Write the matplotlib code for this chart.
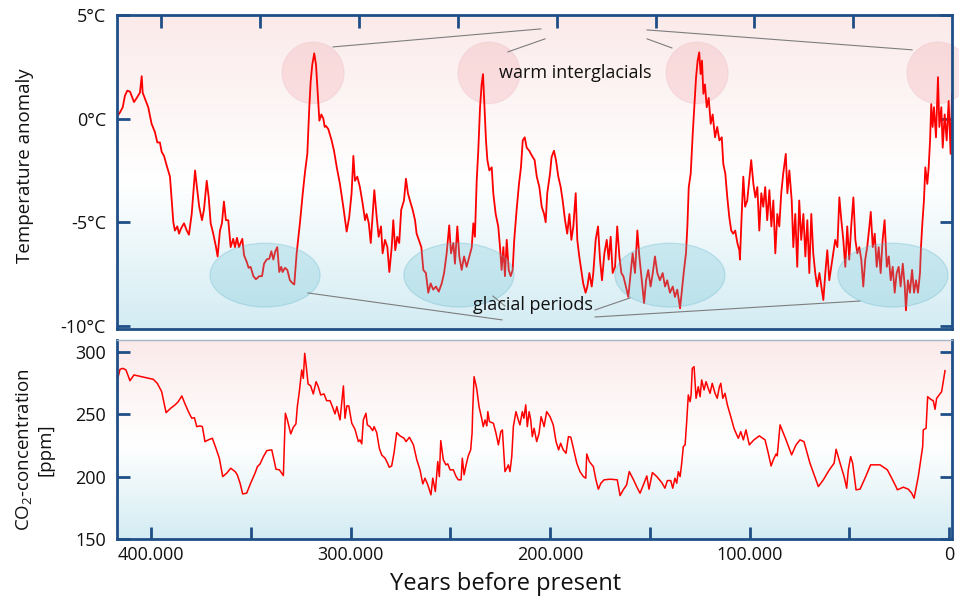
import numpy as np
import matplotlib
matplotlib.use("Agg")
import matplotlib.pyplot as plt
from matplotlib.patches import Ellipse
from matplotlib.colors import LinearSegmentedColormap

plt.rcParams['font.family'] = ['Open Sans', 'DejaVu Sans']
plt.rcParams['mathtext.fontset'] = 'custom'
plt.rcParams['mathtext.rm'] = 'Open Sans'
plt.rcParams['mathtext.it'] = 'Open Sans'

# ---------------- data (thousand years before present) ----------------
temp_kyr = [
    422.4, 421.0, 419.6, 418.5, 417.3, 415.9, 415.1, 413.9, 412.5, 410.9,
    410.0, 409.5, 408.3, 406.7, 405.0, 403.3, 402.1, 400.8, 399.9, 398.7,
    397.4, 395.7, 394.8, 394.0, 393.2, 392.0, 391.1, 390.1, 388.6, 387.2,
    386.1, 384.7, 383.0, 381.9, 380.9, 379.5, 378.5, 377.1, 376.1, 375.1,
    373.8, 372.4, 371.6, 370.4, 369.4, 368.4, 367.4, 366.2, 365.0, 363.7,
    362.8, 361.8, 360.8, 359.1, 358.2, 356.9, 355.9, 354.9, 353.5, 352.2,
    350.5, 349.1, 348.1, 346.8, 345.4, 344.4, 343.4, 342.4, 341.4, 340.4,
    339.4, 338.7, 337.5, 336.3, 335.0, 333.6, 332.8, 331.6, 329.9, 328.5,
    327.4, 326.2, 325.2, 324.5, 323.7, 322.7, 321.8, 321.2, 320.1, 319.1,
    318.1, 317.4, 316.8, 315.6, 313.9, 312.7, 311.3, 309.7, 308.0, 306.3,
    305.0, 303.8, 302.9, 302.1, 300.9, 299.6, 298.2, 297.0, 296.2, 295.1,
    294.1, 293.1, 292.3, 291.1, 290.1, 288.9, 288.1, 286.9, 285.7, 284.7,
    283.5, 282.7, 281.7, 280.7, 279.7, 278.7, 277.3, 276.3, 275.3, 274.3,
    272.9, 271.7, 270.9, 269.8, 268.5, 267.5, 266.2, 265.0, 263.8, 262.5,
    261.1, 259.7, 258.2, 257.0, 255.7, 254.4, 253.5, 252.3, 251.5, 250.3,
    249.3, 248.1, 246.9, 245.6, 244.2, 243.0, 242.2, 241.4, 240.5, 239.7,
    238.8, 238.0, 237.3, 236.7, 235.8, 235.1, 234.1, 232.9, 232.1, 230.9,
    229.6, 228.7, 227.9, 227.0, 226.2, 225.3, 224.3, 223.3, 222.3, 221.5,
    220.3, 219.1, 218.1, 217.2, 216.2, 215.2, 213.9, 212.5, 211.2, 210.1,
    208.8, 207.6, 206.4, 205.6, 204.8, 203.4, 202.6, 201.4, 200.4, 199.2,
    198.0, 197.0, 195.8, 194.7, 193.6, 192.6, 191.6, 190.4, 189.6, 188.6,
    187.4, 186.6, 185.4, 184.5, 183.5, 182.3, 181.5, 180.3, 179.1, 178.1,
    177.1, 175.9, 174.7, 173.7, 172.7, 171.7, 170.5, 169.4, 168.3, 167.3,
    166.3, 165.0, 163.8, 162.6, 161.6, 160.4, 159.2, 158.2, 157.0, 155.8,
    154.8, 153.7, 152.5, 151.4, 150.3, 149.1, 147.8, 146.4, 145.2, 144.1,
    142.7, 141.3, 140.2, 139.0, 137.6, 136.8, 135.6, 134.6, 133.9, 133.2,
    132.2, 131.2, 130.4, 129.5, 128.7, 127.9, 127.2, 126.5, 125.8, 125.0,
    124.1, 123.1, 122.1, 121.1, 119.9, 118.8, 117.7, 116.5, 115.7, 114.7,
    113.7, 112.7, 111.7, 110.7, 109.7, 108.6, 107.6, 107.3, 106.4, 105.6,
    104.7, 103.6, 102.6, 101.6, 100.5, 99.5, 98.5, 97.5, 96.5, 95.5,
    94.5, 93.5, 92.4, 91.4, 90.4, 89.4, 88.4, 87.4, 86.4, 85.4,
    84.1, 83.3, 82.3, 81.1, 80.3, 79.3, 78.3, 77.3, 76.3, 75.2,
    74.2, 73.2, 72.2, 71.2, 70.2, 69.2, 68.2, 67.1, 66.1, 65.1,
    64.1, 63.1, 62.1, 61.1, 60.1, 59.1, 58.0, 57.0, 56.0, 55.0,
    54.0, 53.0, 52.0, 51.0, 49.9, 48.9, 47.9, 46.9, 45.9, 44.9,
    43.9, 42.9, 41.8, 41.1, 40.1, 39.1, 38.1, 37.1, 36.1, 35.1,
    34.1, 33.0, 32.0, 31.0, 30.0, 29.0, 28.0, 27.0, 26.0, 24.9,
    23.9, 23.3, 22.3, 21.3, 20.2, 19.2, 18.2, 17.2, 16.2, 15.7,
    15.0, 14.2, 13.5, 12.5, 11.8, 11.1, 10.5, 9.8, 9.1, 8.1,
    7.1, 6.4, 5.4, 4.7, 3.7, 2.7, 1.7, 0.7, 0.0,
]
temp_anomaly = [
    0.1, 0.3, 0.55, 1.1, 1.35, 1.3, 1.1, 0.8, 1.0, 1.25,
    2.05, 1.25, 0.95, 0.55, -0.25, -0.65, -1.15, -1.15, -1.6, -1.8,
    -2.25, -2.8, -3.95, -5.0, -5.4, -5.2, -5.55, -5.3, -5.05, -5.4,
    -5.6, -4.6, -2.5, -3.45, -4.25, -4.9, -4.4, -3.0, -3.8, -5.05,
    -5.55, -6.2, -6.65, -5.4, -5.05, -4.0, -4.9, -4.9, -6.2, -5.8,
    -6.2, -5.75, -6.2, -5.8, -6.6, -6.9, -7.2, -7.15, -7.6, -7.75,
    -7.6, -7.6, -7.0, -6.8, -6.75, -6.4, -6.8, -6.4, -6.2, -7.4,
    -7.15, -7.4, -7.2, -7.3, -7.8, -7.95, -8.0, -6.5, -5.0, -3.6,
    -2.6, -1.7, 0.55, 1.8, 2.6, 3.15, 2.6, 1.65, -0.1, 0.2,
    0.0, -0.4, -0.35, -0.5, -1.05, -1.55, -2.35, -3.15, -4.25, -5.45,
    -4.75, -3.6, -1.8, -3.0, -2.8, -3.3, -4.1, -4.9, -4.6, -5.05,
    -6.0, -4.6, -3.45, -4.75, -5.7, -5.2, -6.5, -5.85, -6.2, -7.4,
    -6.2, -4.9, -6.35, -5.7, -6.0, -4.4, -3.95, -2.9, -3.6, -3.95,
    -4.4, -4.9, -5.55, -5.85, -6.2, -7.3, -7.45, -8.4, -7.95, -8.25,
    -8.1, -8.35, -7.95, -7.45, -6.5, -5.15, -6.5, -6.0, -7.0, -5.2,
    -6.65, -7.3, -6.65, -7.15, -6.65, -6.2, -5.05, -5.7, -3.0, -1.55,
    0.55, 1.65, 2.15, 0.85, -1.05, -2.0, -2.5, -2.35, -3.6, -4.6,
    -5.2, -6.2, -7.3, -6.2, -7.6, -5.85, -7.3, -7.6, -7.3, -5.85,
    -4.4, -3.15, -2.35, -1.05, -0.9, -1.4, -1.55, -1.8, -2.0, -2.8,
    -3.3, -4.25, -4.6, -5.0, -3.6, -2.65, -1.85, -1.55, -2.0, -2.8,
    -3.3, -3.95, -4.9, -5.55, -4.6, -5.85, -5.2, -3.6, -5.85, -6.65,
    -7.45, -7.95, -8.4, -8.1, -7.45, -8.1, -7.45, -5.85, -5.2, -6.8,
    -7.8, -6.5, -5.85, -6.8, -5.7, -7.45, -7.15, -5.2, -6.65, -7.45,
    -7.6, -8.1, -8.6, -7.45, -6.5, -7.45, -5.4, -6.65, -7.8, -8.9,
    -7.8, -7.3, -8.1, -7.45, -6.65, -7.45, -7.8, -7.45, -8.1, -7.8,
    -8.4, -8.1, -8.6, -8.25, -9.15, -8.4, -7.3, -6.5, -5.2, -3.3,
    -2.65, -0.75, 0.55, 2.0, 2.8, 3.2, 2.15, 2.8, 1.2, 1.65,
    0.55, 1.0, -0.25, 0.2, -0.9, -0.4, -1.05, -0.9, -2.2, -2.65,
    -3.8, -4.75, -5.4, -5.55, -5.4, -6.0, -6.35, -6.8, -4.6, -2.8,
    -4.25, -3.95, -3.0, -2.0, -3.15, -3.8, -3.3, -5.4, -3.6, -4.25,
    -3.3, -4.9, -3.45, -5.2, -3.95, -6.5, -4.6, -5.2, -3.6, -2.65,
    -1.7, -3.6, -2.5, -3.95, -6.2, -4.6, -7.15, -3.95, -5.85, -4.6,
    -6.65, -4.9, -7.45, -4.6, -6.5, -7.45, -8.1, -7.45, -8.1, -8.75,
    -7.45, -6.35, -7.8, -7.15, -6.5, -5.85, -6.2, -3.8, -4.9, -5.85,
    -7.15, -5.2, -6.8, -5.2, -3.8, -5.85, -6.5, -6.2, -6.8, -8.1,
    -6.8, -6.2, -5.2, -4.5, -6.2, -5.55, -7.15, -6.2, -7.45, -5.85,
    -4.9, -7.15, -6.65, -7.8, -7.15, -8.4, -7.45, -7.15, -8.1, -7.0,
    -8.1, -9.25, -7.8, -8.4, -7.3, -8.4, -7.8, -8.4, -7.45, -6.2,
    -5.05, -3.95, -2.35, -3.15, -2.35, -1.05, 0.7, -0.4, 0.55, -0.9,
    2.0, -0.4, 0.55, -1.4, 0.2, -1.05, 0.85, -1.7, 1.2,
]

co2_kyr = [
    416.9, 415.6, 414.2, 412.6, 410.6, 408.6, 398.9, 396.9, 394.7, 393.5,
    392.5, 390.2, 388.0, 386.4, 384.6, 383.0, 381.3, 379.6, 378.3, 377.1,
    375.5, 374.3, 373.0, 371.3, 369.3, 367.5, 365.8, 364.1, 362.1, 360.1,
    357.9, 356.8, 355.4, 354.1, 352.1, 350.1, 347.9, 346.7, 345.4, 343.7,
    342.0, 339.5, 337.4, 335.7, 333.7, 332.7, 331.7, 330.0, 328.7, 327.4,
    326.7, 325.7, 324.5, 323.7, 323.0, 322.3, 321.3, 320.0, 318.7, 317.3,
    316.2, 315.0, 313.3, 312.0, 310.3, 309.0, 307.8, 306.9, 305.3, 304.4,
    303.6, 302.8, 301.9, 300.9, 299.4, 297.8, 296.1, 295.3, 294.4, 293.6,
    292.3, 291.6, 290.3, 288.9, 288.2, 286.9, 285.6, 284.4, 282.7, 281.6,
    280.6, 279.4, 278.2, 276.9, 275.2, 273.2, 272.2, 270.5, 268.5, 266.8,
    265.2, 263.8, 262.7, 261.3, 259.7, 258.8, 257.5, 256.3, 255.5, 254.8,
    253.5, 252.2, 251.3, 250.1, 248.5, 247.1, 246.0, 244.6, 244.0, 243.1,
    242.1, 241.0, 239.8, 239.1, 238.8, 238.1, 236.8, 235.6, 234.3, 233.5,
    232.6, 231.7, 231.2, 230.4, 228.4, 227.1, 225.9, 224.7, 223.9, 222.6,
    221.4, 220.9, 220.1, 219.2, 218.4, 217.1, 215.9, 215.1, 213.9, 213.1,
    212.2, 211.4, 210.5, 209.7, 208.9, 208.0, 206.7, 205.5, 204.5, 203.7,
    203.0, 201.7, 200.0, 198.4, 197.0, 195.7, 194.7, 193.4, 192.0, 190.8,
    189.6, 188.3, 186.6, 185.0, 183.3, 182.1, 181.6, 180.3, 178.3, 177.0,
    175.8, 174.5, 172.9, 169.9, 166.3, 164.9, 163.3, 161.6, 160.3, 158.3,
    156.6, 154.9, 153.2, 151.5, 150.4, 148.7, 146.5, 144.0, 142.4, 141.2,
    139.5, 138.5, 137.4, 136.5, 135.7, 134.8, 134.0, 133.2, 132.3, 131.5,
    130.7, 129.8, 129.3, 128.7, 127.8, 126.8, 125.7, 124.8, 124.0, 122.8,
    121.8, 120.7, 119.8, 118.7, 117.3, 116.2, 115.1, 114.4, 113.4, 112.3,
    111.1, 109.4, 107.8, 106.4, 105.6, 104.4, 103.1, 101.8, 100.1, 97.8,
    95.1, 92.2, 90.6, 89.2, 88.1, 86.7, 86.1, 84.7, 81.7, 78.9,
    76.7, 74.7, 72.7, 69.7, 65.5, 63.0, 60.0, 57.6, 56.6, 54.6,
    52.6, 51.3, 50.5, 49.3, 48.3, 46.6, 44.6, 42.1, 39.3, 34.6,
    30.9, 28.7, 26.6, 25.9, 22.9, 20.4, 18.7, 17.5, 15.4, 13.2,
    12.9, 11.5, 10.7, 9.2, 7.9, 7.0, 6.2, 3.7, 2.0,
]
co2_ppm = [
    277.4, 285.9, 286.7, 285.4, 276.8, 281.4, 277.9, 274.7, 268.0, 258.7,
    251.2, 254.7, 257.4, 260.0, 264.6, 258.2, 252.0, 246.7, 247.2, 240.0,
    240.6, 240.0, 228.0, 229.4, 230.7, 222.7, 214.7, 200.0, 202.7, 206.7,
    204.0, 201.4, 194.7, 186.1, 186.7, 194.7, 202.7, 208.0, 210.1, 216.0,
    220.8, 221.4, 205.9, 205.4, 200.8, 250.7, 245.4, 234.2, 239.5, 242.2,
    256.0, 268.0, 285.4, 278.7, 298.7, 289.4, 274.2, 272.6, 266.2, 276.0,
    272.0, 265.4, 266.2, 260.8, 260.8, 255.5, 250.2, 256.0, 245.4, 260.0,
    272.6, 246.7, 256.6, 256.6, 242.7, 237.9, 228.0, 229.4, 226.2, 245.4,
    250.7, 241.4, 240.0, 236.8, 240.0, 235.2, 222.7, 217.3, 214.7, 211.2,
    207.5, 208.5, 219.2, 235.2, 232.6, 230.7, 228.0, 231.5, 225.4, 213.4,
    205.4, 194.1, 198.7, 193.4, 185.4, 198.7, 188.0, 212.0, 200.0, 228.8,
    213.4, 209.4, 210.2, 205.4, 205.4, 200.0, 197.4, 197.4, 214.7, 201.4,
    209.4, 216.6, 221.4, 234.7, 252.0, 280.0, 270.7, 256.0, 246.7, 240.0,
    245.4, 240.6, 252.0, 244.0, 242.7, 234.7, 225.4, 236.0, 237.4, 204.0,
    207.5, 209.4, 204.0, 216.0, 240.0, 252.0, 245.4, 241.4, 252.0, 246.7,
    257.4, 240.0, 252.0, 245.4, 232.0, 238.7, 228.0, 234.7, 248.0, 244.0,
    240.0, 252.0, 248.0, 241.4, 228.0, 221.4, 226.7, 221.4, 218.7, 232.0,
    231.5, 222.7, 210.7, 204.0, 200.0, 198.7, 218.1, 212.0, 208.0, 197.4,
    189.9, 194.7, 197.4, 197.9, 197.4, 184.8, 189.4, 193.4, 204.0, 197.9,
    192.0, 186.7, 193.4, 200.5, 189.9, 203.2, 200.0, 195.2, 190.7, 196.8,
    196.8, 190.7, 198.7, 194.7, 204.0, 200.0, 210.7, 224.0, 225.4, 244.0,
    265.4, 260.0, 265.4, 286.7, 288.0, 262.7, 272.0, 264.0, 277.4, 269.4,
    276.0, 270.7, 266.7, 274.7, 266.7, 262.7, 272.0, 274.7, 262.7, 266.7,
    257.4, 248.0, 238.7, 233.4, 230.7, 236.0, 229.4, 237.4, 225.4, 229.4,
    232.6, 229.4, 218.7, 208.5, 213.4, 218.1, 216.6, 241.4, 229.4, 217.4,
    225.4, 229.4, 228.0, 210.7, 192.0, 197.4, 205.4, 210.7, 221.9, 210.7,
    200.0, 190.7, 205.4, 216.0, 210.7, 189.4, 189.9, 198.7, 209.4, 209.4,
    205.4, 198.7, 192.0, 189.4, 191.5, 189.9, 186.7, 182.7, 200.0, 224.0,
    237.4, 238.7, 264.0, 261.9, 260.8, 253.9, 262.7, 268.0, 284.8,
]

temp_ticks = [-10, -5, 0, 5]
temp_ticklabels = ['-10°C', '-5°C', '0°C', '5°C']
co2_ticks = [150, 200, 250, 300]
year_ticks = [400000, 300000, 200000, 100000, 0]
year_ticklabels = ['400.000', '300.000', '200.000', '100.000', '0']
year_minor = [350000, 250000, 150000, 50000]
top_year_ticks = [400000, 350000, 300000, 250000, 200000, 150000, 100000, 50000]

# annotation geometry (top panel data units: years, degC)
warm_centers = [323300, 234300, 129000, 7100]
glacial_centers = [347600, 249500, 142700, 29900]
warm_lines = [((313200, 208000), (3.46, 4.33)), ((224700, 205900), (3.22, 3.85)),
              ((154300, 141700), (3.85, 3.41)), ((154300, 20200), (4.28, 3.32))]
glacial_lines = [((325900, 227700), (-8.41, -9.71)), ((232300, 226200), (-8.56, -9.04)),
                 ((180600, 162900), (-9.23, -8.65)), ((180600, 46600), (-9.57, -8.80))]

temp_years = np.array(temp_kyr) * 1000
co2_years = np.array(co2_kyr) * 1000

SPINE = '#1f4f86'
RED = '#ff0000'
TXT = '#111111'

fig = plt.figure(figsize=(9.59, 6.01), dpi=100)
ax1 = fig.add_axes([117 / 959, 1 - 329 / 601, 835 / 959, 314 / 601])
ax2 = fig.add_axes([117 / 959, 1 - 539 / 601, 835 / 959, 199 / 601])

cmap = LinearSegmentedColormap.from_list(
    'bg', [(0.0, '#d3ecf3'), (0.47, '#ffffff'), (1.0, '#fbeaea')])
grad = np.linspace(0, 1, 256).reshape(-1, 1)
for ax in (ax1, ax2):
    ax.imshow(grad, cmap=cmap, extent=(0, 1, 0, 1), transform=ax.transAxes,
              origin='lower', aspect='auto', zorder=0, interpolation='bilinear')

# ---------------- top panel ----------------
for xc in warm_centers:
    ax1.add_patch(Ellipse((xc, 2.21), width=31400, height=2.98,
                          facecolor=(0.96, 0.70, 0.72, 0.34),
                          edgecolor=(0.93, 0.74, 0.76, 0.35), lw=0.8,
                          zorder=1, clip_on=False))
ax1.plot(temp_years, temp_anomaly, color=RED, lw=1.3, zorder=2)
for xc in glacial_centers:
    ax1.add_patch(Ellipse((xc, -7.55), width=55700, height=3.08,
                          facecolor=(0.39, 0.745, 0.82, 0.25),
                          edgecolor=(0.39, 0.70, 0.80, 0.30), lw=0.9,
                          zorder=3))
for xs, ys in warm_lines + glacial_lines:
    ax1.plot(xs, ys, color='#7d7d7d', lw=0.8, zorder=4, clip_on=False)
ax1.text(190800, 2.21, 'warm interglacials', ha='center', va='center',
         fontsize=13, color=TXT, zorder=5)
ax1.text(212000, -8.99, 'glacial periods', ha='center', va='center',
         fontsize=13, color=TXT, zorder=5)

ax1.set_xlim(422500, 0)
ax1.set_ylim(-10.15, 5.0)
ax1.set_yticks(temp_ticks)
ax1.set_yticklabels(temp_ticklabels)
ax1.set_xticks(top_year_ticks)
ax1.tick_params(axis='x', top=True, bottom=False, labelbottom=False,
                labeltop=False, direction='in', length=9, width=2, color=SPINE)
ax1.tick_params(axis='y', left=True, right=True, direction='in', length=9,
                width=2, color=SPINE, labelsize=13, pad=8, labelcolor=TXT)
for sp in ax1.spines.values():
    sp.set_color(SPINE)
    sp.set_linewidth(2.0)
ax1.set_ylabel('Temperature anomaly', fontsize=13.5, va='center', color=TXT)
ax1.yaxis.set_label_coords(-0.110, 0.52)

# ---------------- bottom panel ----------------
ax2.plot(co2_years, co2_ppm, color=RED, lw=1.1, zorder=2)
ax2.set_xlim(417100, -1500)
ax2.set_ylim(150, 309.4)
ax2.set_xticks(year_ticks)
ax2.set_xticklabels(year_ticklabels)
ax2.set_xticks(year_minor, minor=True)
ax2.set_yticks(co2_ticks)
ax2.tick_params(axis='x', which='both', bottom=True, top=False, direction='in',
                length=9, width=2, color=SPINE, labelsize=13, pad=5,
                labelcolor=TXT)
ax2.tick_params(axis='y', left=True, right=True, direction='in', length=9,
                width=2, color=SPINE, labelsize=13, pad=8, labelcolor=TXT)
for name, sp in ax2.spines.items():
    sp.set_color(SPINE)
    sp.set_linewidth(2.0)
ax2.spines['top'].set_color('#a3b6ca')
ax2.spines['top'].set_linewidth(1.0)
ax2.set_ylabel('CO$_2$-concentration\n[ppm]', fontsize=13.5, va='center',
               linespacing=1.15, color=TXT)
ax2.yaxis.set_label_coords(-0.099, 0.447)
ax2.set_xlabel('Years before present', fontsize=17, va='center', color=TXT)
ax2.xaxis.set_label_coords(0.465, -0.225)

fig.savefig('out.png', dpi=100, facecolor='white')
